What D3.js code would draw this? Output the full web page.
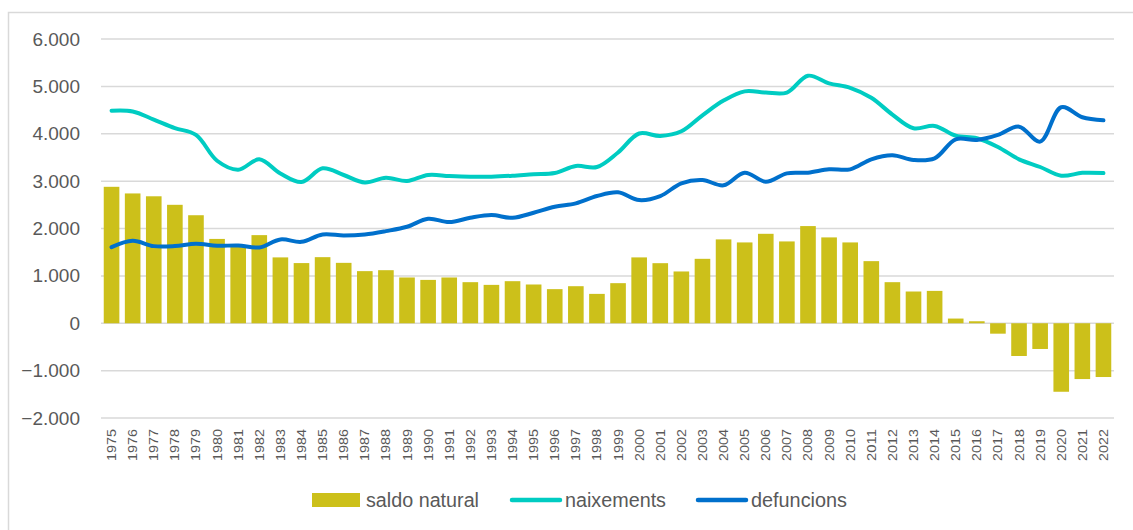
<!DOCTYPE html>
<html>
<head>
<meta charset="utf-8">
<script src="https://cdn.jsdelivr.net/npm/d3@7"></script>
<style>
  body { margin: 0; background: #fff; }
  text { font-family: "Liberation Sans", Arial, sans-serif; fill: #595959; }
</style>
</head>
<body>
<div id="container"></div>
<script>
// data
const years = d3.range(1975, 2023).map(String)
const saldo = [2880, 2740, 2680, 2500, 2280, 1780, 1620, 1860, 1390, 1270,
  1395, 1275, 1100, 1120, 966, 915, 966, 867, 810, 888,
  818, 720, 782, 620, 846, 1390, 1268, 1093, 1360, 1770,
  1706, 1888, 1727, 2051, 1812, 1706, 1311, 867, 670, 683,
  99, 42, -220, -691, -543, -1446, -1178, -1135]
const naixements = [4485, 4470, 4300, 4120, 3975, 3430, 3240, 3460, 3160, 2980,
  3270, 3129, 2970, 3070, 3002, 3130, 3108, 3094, 3094, 3114,
  3146, 3170, 3320, 3298, 3605, 4005, 3953, 4052, 4390, 4700,
  4895, 4870, 4870, 5225, 5064, 4970, 4760, 4405, 4116, 4165,
  3960, 3905, 3720, 3460, 3298, 3114, 3175, 3170]
const defuncions = [1607, 1740, 1628, 1630, 1677, 1635, 1642, 1600, 1770, 1719,
  1875, 1854, 1875, 1945, 2036, 2205, 2135, 2226, 2283, 2226,
  2332, 2459, 2530, 2685, 2763, 2600, 2685, 2953, 3023, 2911,
  3178, 2987, 3164, 3178, 3249, 3249, 3460, 3545, 3446, 3481,
  3883, 3869, 3975, 4150, 3834, 4560, 4349, 4285]
const yTicks = [-2000, -1000, 0, 1000, 2000, 3000, 4000, 5000, 6000]

const width = 1133,
  height = 530,
  margin = { top: 39, bottom: 112, left: 101, right: 19 },
  colors = { saldo: "#CCC01A", naix: "#00CCC2", def: "#0070CC" }

const fmt = d => d === 0 ? "0" : d3.format(",")(d).replace(/,/g, ".")

const svg = d3.select("#container")
  .append("svg")
  .attr("width", width)
  .attr("height", height)

// outer chart border
svg.append("rect")
  .attr("x", 8.5).attr("y", 12.5)
  .attr("width", 1140).attr("height", 540)
  .attr("fill", "none")
  .attr("stroke", "#d9d9d9")
  .attr("stroke-width", 1.5)

// scales
const xScale = d3.scaleBand()
  .domain(years)
  .range([margin.left, width - margin.right])
  .paddingInner(0.26)
  .paddingOuter(0.13)

const yScale = d3.scaleLinear()
  .domain([-2000, 6000])
  .range([height - margin.bottom, margin.top])

// gridlines
svg.append("g")
  .selectAll("line")
  .data(yTicks)
  .join("line")
  .attr("x1", margin.left)
  .attr("x2", width - margin.right)
  .attr("y1", d => yScale(d))
  .attr("y2", d => yScale(d))
  .attr("stroke", "#d9d9d9")
  .attr("stroke-width", 1.5)

// y axis labels
const yAxis = d3.axisLeft(yScale).tickValues(yTicks).tickFormat(fmt).tickSize(0).tickPadding(0)
svg.append("g")
  .attr("transform", "translate(80,0)")
  .call(yAxis)
  .call(g => g.select(".domain").remove())
  .selectAll("text")
  .style("font-size", "19px")
  .attr("fill", "#595959")

// bars
svg.append("g")
  .selectAll("rect")
  .data(years)
  .join("rect")
  .attr("x", d => xScale(d))
  .attr("width", xScale.bandwidth())
  .attr("y", (d, i) => yScale(Math.max(0, saldo[i])))
  .attr("height", (d, i) => Math.abs(yScale(saldo[i]) - yScale(0)))
  .attr("fill", colors.saldo)

// lines
const line = d3.line()
  .x((d, i) => xScale(years[i]) + xScale.bandwidth() / 2)
  .y(d => yScale(d))
  .curve(d3.curveCatmullRom.alpha(0.5))

svg.append("path")
  .datum(naixements)
  .attr("d", line)
  .attr("fill", "none")
  .attr("stroke", colors.naix)
  .attr("stroke-width", 4)
  .attr("stroke-linecap", "round")

svg.append("path")
  .datum(defuncions)
  .attr("d", line)
  .attr("fill", "none")
  .attr("stroke", colors.def)
  .attr("stroke-width", 4)
  .attr("stroke-linecap", "round")

// x axis labels, rotated
svg.append("g")
  .selectAll("text")
  .data(years)
  .join("text")
  .attr("transform", d => `translate(${xScale(d) + xScale.bandwidth() / 2 + 4.5},429) rotate(-90)`)
  .attr("text-anchor", "end")
  .attr("textLength", 32)
  .attr("lengthAdjust", "spacingAndGlyphs")
  .style("font-size", "12px")
  .text(d => d)

// legend
const legend = svg.append("g")
const legendY = 500
legend.append("rect")
  .attr("x", 312).attr("y", legendY - 7)
  .attr("width", 48).attr("height", 14)
  .attr("fill", colors.saldo)
legend.append("text")
  .attr("x", 366).attr("y", legendY + 7)
  .attr("textLength", 113)
  .attr("lengthAdjust", "spacingAndGlyphs")
  .style("font-size", "20px")
  .text("saldo natural")

legend.append("line")
  .attr("x1", 512).attr("x2", 560)
  .attr("y1", legendY).attr("y2", legendY)
  .attr("stroke", colors.naix).attr("stroke-width", 4.5).attr("stroke-linecap", "round")
legend.append("text")
  .attr("x", 565).attr("y", legendY + 7)
  .attr("textLength", 101)
  .attr("lengthAdjust", "spacingAndGlyphs")
  .style("font-size", "20px")
  .text("naixements")

legend.append("line")
  .attr("x1", 698).attr("x2", 746)
  .attr("y1", legendY).attr("y2", legendY)
  .attr("stroke", colors.def).attr("stroke-width", 4.5).attr("stroke-linecap", "round")
legend.append("text")
  .attr("x", 751).attr("y", legendY + 7)
  .attr("textLength", 96)
  .attr("lengthAdjust", "spacingAndGlyphs")
  .style("font-size", "20px")
  .text("defuncions")
</script>
</body>
</html>
